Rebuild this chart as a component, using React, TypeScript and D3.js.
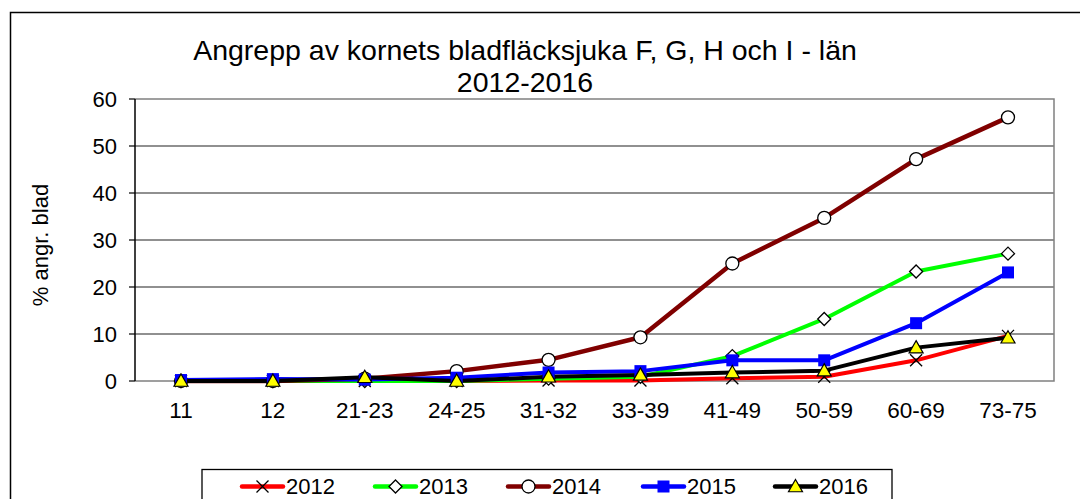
import React from 'react';
import * as d3 from 'd3';

const categories = ['11', '12', '21-23', '24-25', '31-32', '33-39', '41-49', '50-59', '60-69', '73-75'];
const s2012 = [0, 0, 0, 0, 0.1, 0.1, 0.6, 0.9, 4.4, 9.6];
const s2013 = [0, 0, 0, 0, 0.5, 0.9, 5.3, 13.2, 23.3, 27.1];
const s2014 = [0, 0, 0.5, 2.1, 4.5, 9.3, 25.0, 34.7, 47.2, 56.1];
const s2015 = [0.2, 0.4, 0.3, 0.7, 1.8, 2.1, 4.4, 4.4, 12.3, 23.1];
const s2016 = [0, 0, 0.8, 0, 0.9, 1.3, 1.8, 2.2, 7.1, 9.2];
const yTicks = [0, 10, 20, 30, 40, 50, 60];
const seriesNames = ['2012', '2013', '2014', '2015', '2016'];
const seriesValues = [s2012, s2013, s2014, s2015, s2016];
const seriesColors = ['#FF0000', '#00FF00', '#800000', '#0000FF', '#000000'];
const seriesMarkers = ['x', 'diamond', 'circle', 'square', 'triangle'];

const FONT = '"Liberation Sans", Arial, sans-serif';

function Marker({ type, x, y }: { type: string; x: number; y: number }) {
  if (type === 'x') {
    const r = 6;
    return (
      <path
        d={`M${x - r},${y - r}L${x + r},${y + r}M${x - r},${y + r}L${x + r},${y - r}`}
        stroke="#000"
        strokeWidth={1.3}
        fill="none"
      />
    );
  }
  if (type === 'diamond') {
    const r = 6.5;
    return (
      <path
        d={`M${x},${y - r}L${x + r},${y}L${x},${y + r}L${x - r},${y}Z`}
        fill="#fff"
        stroke="#000"
        strokeWidth={1.3}
      />
    );
  }
  if (type === 'circle') {
    return <circle cx={x} cy={y} r={6.5} fill="#fff" stroke="#000" strokeWidth={1.3} />;
  }
  if (type === 'square') {
    return <rect x={x - 6} y={y - 6} width={12} height={12} fill="#0000FF" />;
  }
  const r = 7;
  return (
    <path
      d={`M${x},${y - r}L${x + r},${y + r * 0.75}L${x - r},${y + r * 0.75}Z`}
      fill="#FFFF00"
      stroke="#000"
      strokeWidth={1.2}
    />
  );
}

export default function App() {
  const W = 1080;
  const H = 499;
  const plotL = 135;
  const plotR = 1054;
  const plotT = 99;
  const plotB = 381;

  const x = d3.scalePoint<string>().domain(categories).range([181, 1008]);
  const y = d3.scaleLinear().domain([0, 60]).range([plotB, plotT]);

  const line = d3
    .line<number>()
    .x((_, i) => x(categories[i]) as number)
    .y((d) => y(d));

  const legendX = [242, 375, 508, 643, 775];
  const legY = 486.5;

  return (
    <svg
      width={W}
      height={H}
      style={{ position: 'absolute', left: 0, top: 0, background: '#fff' }}
      fontFamily={FONT}
    >
      <rect x={0} y={0} width={W} height={H} fill="#fff" />
      <rect x={10.5} y={12.5} width={1200} height={700} fill="none" stroke="#000" strokeWidth={1.5} />

      {/* title */}
      <text x={525} y={60} fontSize={28.5} textAnchor="middle" fill="#000">
        Angrepp av kornets bladfläcksjuka F, G, H och I - län
      </text>
      <text x={525} y={92} fontSize={28.5} textAnchor="middle" fill="#000">
        2012-2016
      </text>

      {/* gridlines */}
      {yTicks
        .filter((t) => t > 0 && t < 60)
        .map((t) => (
          <line key={t} x1={plotL} x2={plotR} y1={y(t)} y2={y(t)} stroke="#222" strokeWidth={1.2} />
        ))}
      {/* plot border (gray) */}
      <path
        d={`M${plotL},${plotT}H${plotR}V${plotB}H${plotL}`}
        fill="none"
        stroke="#808080"
        strokeWidth={1.5}
      />
      {/* y axis */}
      <line x1={plotL} x2={plotL} y1={plotT} y2={plotB} stroke="#000" strokeWidth={1.5} />
      {yTicks.map((t) => (
        <g key={t}>
          <line x1={plotL - 6} x2={plotL} y1={y(t)} y2={y(t)} stroke="#000" strokeWidth={1.2} />
          <text x={117} y={y(t) + 8} fontSize={22} textAnchor="end" fill="#000">
            {t}
          </text>
        </g>
      ))}
      <text
        transform={`translate(48,245) rotate(-90)`}
        fontSize={22}
        textAnchor="middle"
        fill="#000"
      >
        % angr. blad
      </text>

      {/* x labels */}
      {categories.map((c) => (
        <text key={c} x={x(c)} y={418} fontSize={22.5} textAnchor="middle" fill="#000">
          {c}
        </text>
      ))}

      {/* series */}
      {seriesValues.map((vals, si) => (
        <g key={seriesNames[si]}>
          <path
            d={line(vals) || ''}
            fill="none"
            stroke={seriesColors[si]}
            strokeWidth={si === 2 ? 4.5 : 4}
            strokeLinejoin="round"
          />
        </g>
      ))}
      {seriesValues.map((vals, si) => (
        <g key={'m' + seriesNames[si]}>
          {vals.map((v, i) => (
            <Marker key={i} type={seriesMarkers[si]} x={x(categories[i]) as number} y={y(v)} />
          ))}
        </g>
      ))}

      {/* legend */}
      <rect x={202} y={469.5} width={690} height={60} fill="#fff" stroke="#000" strokeWidth={1.3} />
      {seriesNames.map((n, si) => (
        <g key={'lg' + n}>
          <line
            x1={legendX[si]}
            x2={legendX[si] + 41}
            y1={legY}
            y2={legY}
            stroke={seriesColors[si]}
            strokeWidth={4.5}
            strokeLinecap="round"
          />
          <Marker type={seriesMarkers[si]} x={legendX[si] + 20.5} y={legY} />
          <text x={legendX[si] + 44} y={494} fontSize={22} fill="#000">
            {n}
          </text>
        </g>
      ))}
    </svg>
  );
}
